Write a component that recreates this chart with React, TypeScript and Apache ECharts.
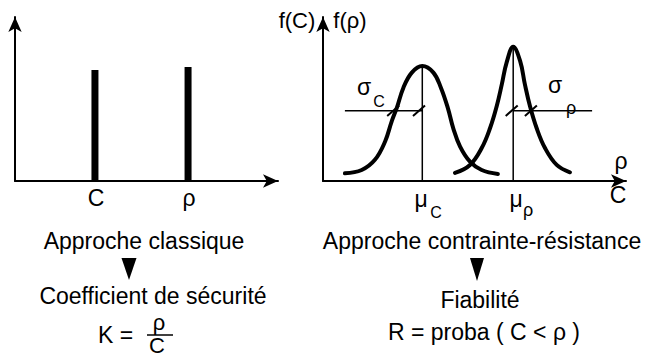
import React, { useEffect, useRef } from "react";
import * as echarts from "echarts";

// ---- Data ----
// Left panel: classical approach (deterministic values)
const leftLabels = ["C", "ρ"];
const leftBarX = [3.04, 6.58];
const leftBarHeights = [6.77, 6.95];

// Right panel: stress-strength densities
const curveC: [number, number][] = [
  [0.73, 0.047], [1.29, 0.067], [1.73, 0.129], [2.07, 0.241], [2.29, 0.364],
  [2.46, 0.446], [2.68, 0.569], [2.96, 0.661], [3.31, 0.701], [3.68, 0.661],
  [3.93, 0.569], [4.16, 0.446], [4.34, 0.323], [4.57, 0.21], [4.9, 0.118],
  [5.29, 0.067], [5.83, 0.043],
];
const curveRho: [number, number][] = [
  [4.4, 0.049], [4.9, 0.098], [5.29, 0.201], [5.57, 0.323], [5.79, 0.456],
  [5.96, 0.589], [6.12, 0.722], [6.34, 0.818], [6.57, 0.732], [6.73, 0.589],
  [6.9, 0.456], [7.12, 0.323], [7.4, 0.201], [7.79, 0.098], [8.23, 0.053],
];
const means = [3.31, 6.34];
const peaks = [0.701, 0.818];
const sigmaLevel = 0.429;
const sigmaCSpan = [0.73, 3.31];
const sigmaRhoSpan = [6.34, 8.97];
const slashX = [2.34, 3.2, 6.29, 6.93];

const FONT = "'Liberation Sans', Arial, sans-serif";

function txt(text: string, x: number, y: number, size: number, align = "center") {
  return {
    type: "text",
    x,
    y,
    style: {
      text,
      font: `${size}px ${FONT}`,
      fill: "#000",
      textAlign: align,
      textVerticalAlign: "middle",
    },
    silent: true,
  };
}

function tri(cx: number, top: number, w: number, h: number) {
  return {
    type: "polygon",
    shape: { points: [[cx - w / 2, top], [cx + w / 2, top], [cx, top + h]] },
    style: { fill: "#000" },
    silent: true,
  };
}

const axisCommon = {
  axisTick: { show: false },
  axisLabel: { show: false },
  splitLine: { show: false },
  axisLine: {
    show: true,
    symbol: ["none", "arrow"],
    symbolSize: [10, 15],
    lineStyle: { color: "#000", width: 2 },
  },
};

export default function App() {
  const ref = useRef<HTMLDivElement>(null);
  useEffect(() => {
    if (!ref.current) return;
    const chart = echarts.init(ref.current, undefined, { renderer: "svg" });

    const thin = { color: "#000", width: 1.5 };
    const series: any[] = [
      {
        type: "bar",
        xAxisIndex: 0,
        yAxisIndex: 0,
        barWidth: 7,
        itemStyle: { color: "#000" },
        data: leftBarX.map((x, i) => [x, leftBarHeights[i]]),
      },
      // mean lines
      ...means.map((m, i) => ({
        type: "line",
        xAxisIndex: 1,
        yAxisIndex: 1,
        symbol: "none",
        lineStyle: thin,
        data: [[m, 0], [m, peaks[i]]],
      })),
      // sigma lines
      {
        type: "line", xAxisIndex: 1, yAxisIndex: 1, symbol: "none", lineStyle: thin,
        data: [[sigmaCSpan[0], sigmaLevel], [sigmaCSpan[1], sigmaLevel]],
      },
      {
        type: "line", xAxisIndex: 1, yAxisIndex: 1, symbol: "none", lineStyle: thin,
        data: [[sigmaRhoSpan[0], sigmaLevel], [sigmaRhoSpan[1], sigmaLevel]],
      },
      // slashes
      ...slashX.map((sx) => ({
        type: "line",
        xAxisIndex: 1,
        yAxisIndex: 1,
        symbol: "none",
        lineStyle: { color: "#000", width: 2 },
        data: [[sx - 0.2, sigmaLevel - 0.032], [sx + 0.2, sigmaLevel + 0.032]],
      })),
      // density curves
      {
        type: "line", xAxisIndex: 1, yAxisIndex: 1, symbol: "none", smooth: 0.4,
        lineStyle: { color: "#000", width: 4, cap: "round" },
        data: curveC, z: 5,
      },
      {
        type: "line", xAxisIndex: 1, yAxisIndex: 1, symbol: "none", smooth: 0.4,
        lineStyle: { color: "#000", width: 4, cap: "round" },
        data: curveRho, z: 5,
      },
    ];

    chart.setOption({
      animation: false,
      backgroundColor: "#fff",
      grid: [
        { left: 15, top: 17, width: 263, height: 164 },
        { left: 323, top: 17, width: 303, height: 164 },
      ],
      xAxis: [
        { type: "value", gridIndex: 0, min: 0, max: 10, ...axisCommon },
        { type: "value", gridIndex: 1, min: 0, max: 10.1, ...axisCommon },
      ],
      yAxis: [
        { type: "value", gridIndex: 0, min: 0, max: 10, ...axisCommon },
        { type: "value", gridIndex: 1, min: 0, max: 1, ...axisCommon },
      ],
      series,
      graphic: [
        // left axis labels
        txt(leftLabels[0], 96, 198, 23),
        txt(leftLabels[1], 189, 198, 23),
        // right panel labels
        txt("f(C)", 297, 20, 22),
        txt("f(ρ)", 350, 20, 22),
        txt("σ", 364, 87, 23),
        txt("C", 379, 101, 16),
        txt("σ", 555, 85, 23),
        txt("ρ", 571, 108, 18),
        txt("μ", 421, 199, 23),
        txt("C", 436, 212, 16),
        txt("μ", 516, 199, 23),
        txt("ρ", 528, 210, 18),
        txt("ρ", 621, 161, 23),
        txt("C", 618, 195, 23),
        // left bottom
        txt("Approche classique", 144, 241, 23),
        tri(129, 258, 15, 22),
        txt("Coefficient de sécurité", 153, 296, 23),
        txt("K =", 98, 335, 23, "left"),
        txt("ρ", 159, 322, 22),
        {
          type: "line",
          shape: { x1: 147, y1: 335, x2: 173, y2: 335 },
          style: { stroke: "#000", lineWidth: 1.5 },
          silent: true,
        },
        txt("C", 157, 345, 22),
        // right bottom
        txt("Approche contrainte-résistance", 482, 241, 23),
        tri(477, 258, 14, 23),
        txt("Fiabilité", 480, 300, 23),
        txt("R = proba ( C < ρ )", 484, 332, 23),
      ],
    });
    return () => chart.dispose();
  }, []);
  return (
    <div
      ref={ref}
      style={{ position: "absolute", left: 0, top: 0, width: 647, height: 356, background: "#fff" }}
    />
  );
}
